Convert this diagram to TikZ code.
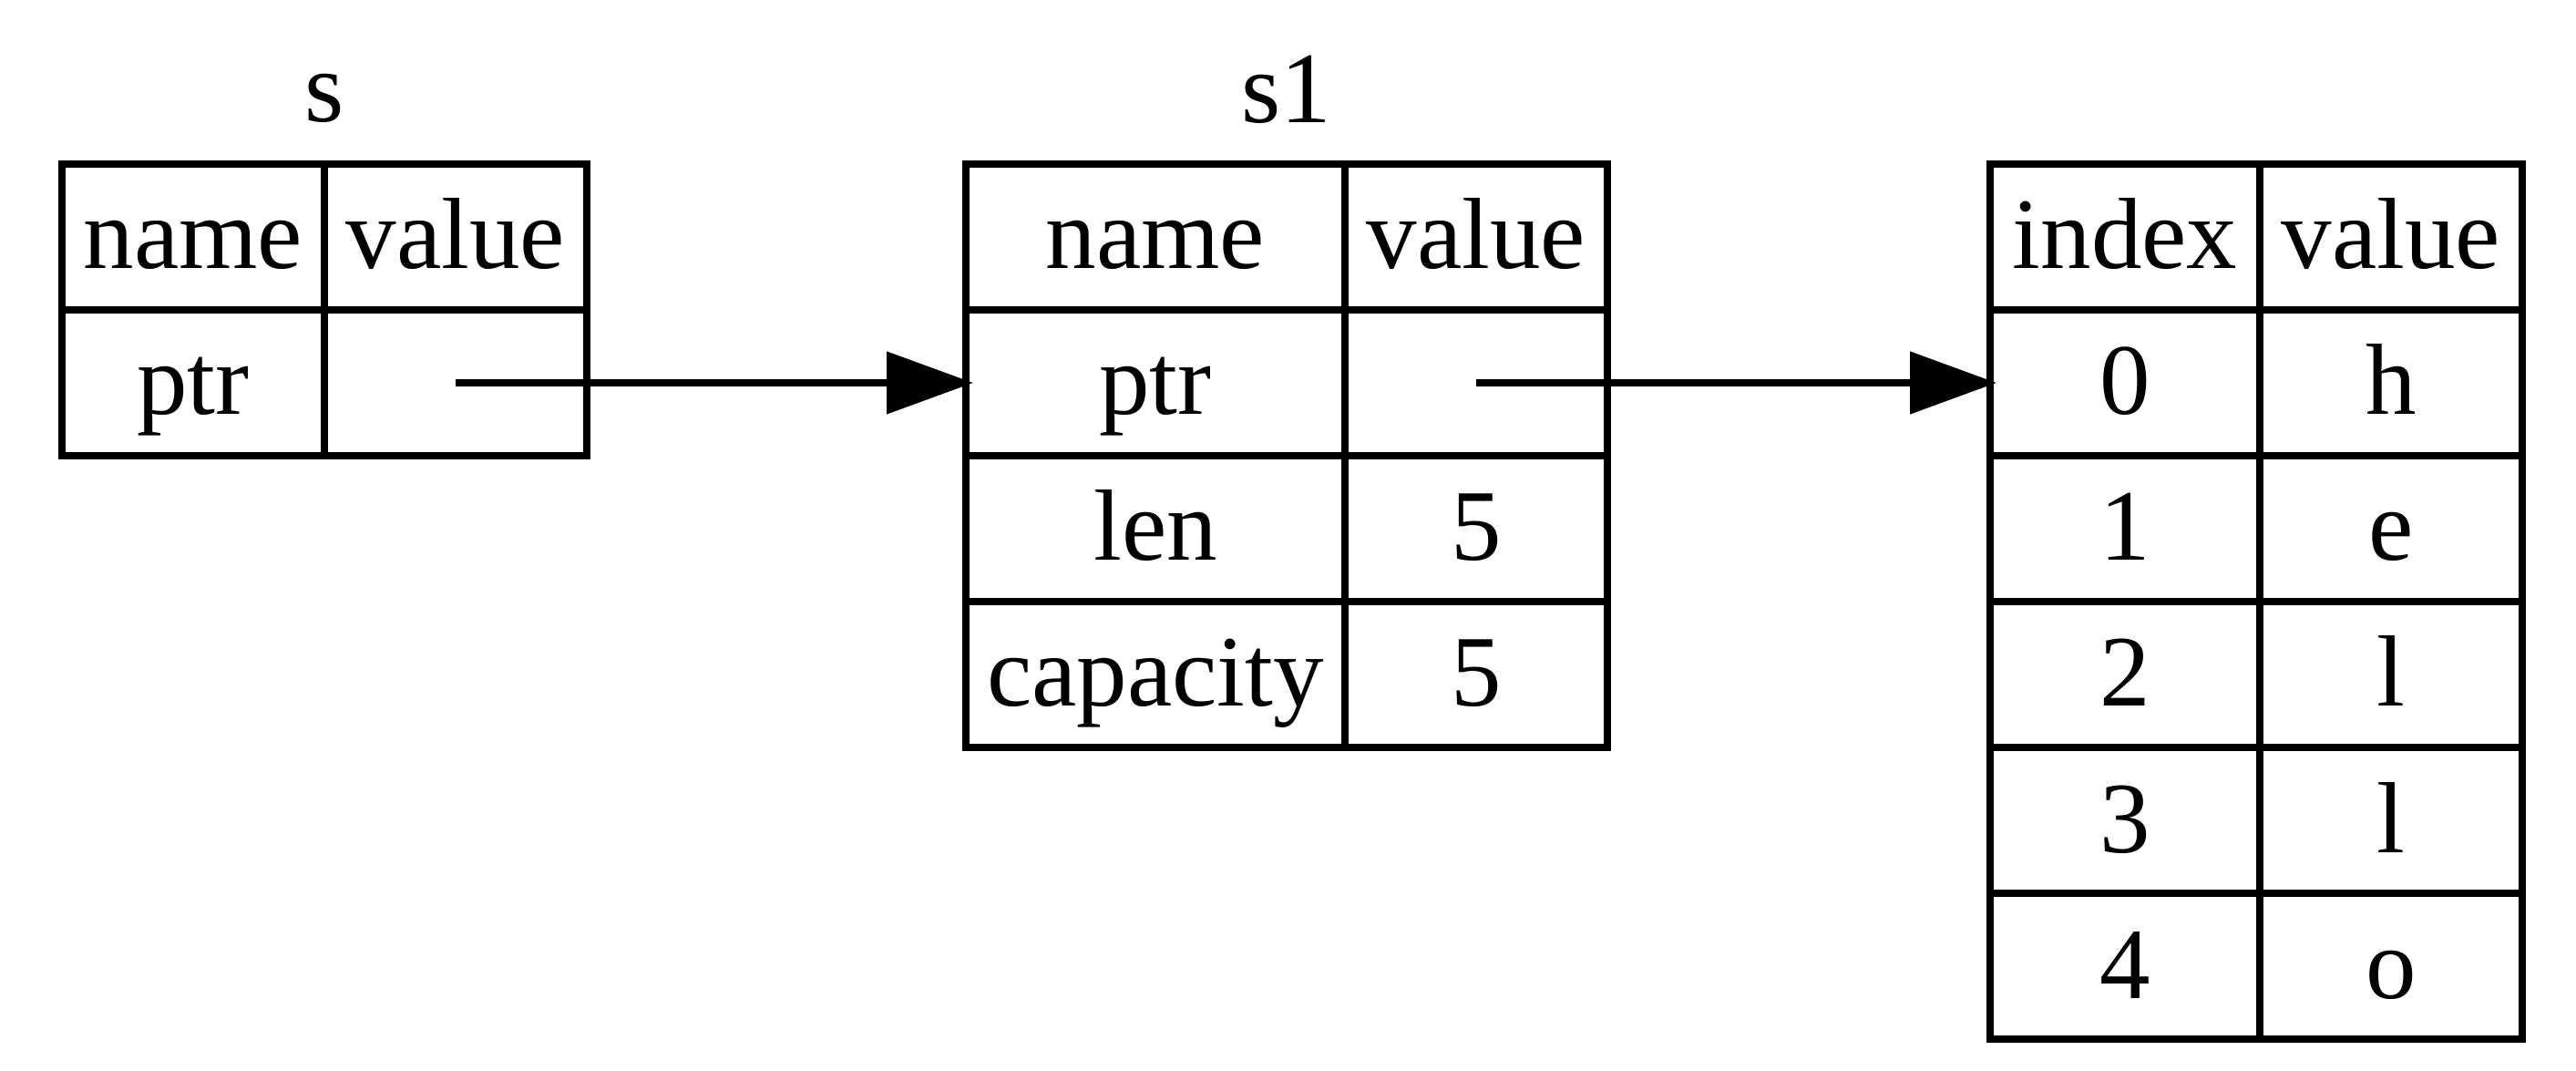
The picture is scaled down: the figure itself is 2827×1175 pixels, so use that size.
\documentclass[tikz,border=0pt]{standalone}
\usepackage{fontspec}
\setmainfont{Liberation Serif}
\usetikzlibrary{arrows.meta}
\tikzset{
  cell/.style={draw, line width=2pt, minimum height=40pt, text height=20pt, text depth=2.5pt, inner sep=0pt, font=\fontsize{27.75pt}{33pt}\selectfont},
  ttl/.style={anchor=base, inner sep=0pt, font=\fontsize{27.75pt}{33pt}\selectfont},
  arr/.style={line width=2pt, -{Triangle[length=23.75pt, width=16.75pt]}}
}
\begin{document}
\begin{tikzpicture}[x=0.25pt, y=-0.25pt]
\useasboundingbox (0,0) rectangle (2827,1175);
% table s
\node[ttl] (s-t) at (356,134) {s};
\node[cell, minimum width=72pt] (s-h1) at (212,260) {name};
\node[cell, minimum width=72pt] (s-h2) at (500,260) {value};
\node[cell, minimum width=72pt] (s-pn) at (212,420) {ptr};
\node[cell, minimum width=72pt] (s-pv) at (500,420) {};
% table s1
\node[ttl] (s1-t) at (1412,135) {s1};
\node[cell, minimum width=104pt] (s1-h1) at (1268,260) {name};
\node[cell, minimum width=72pt] (s1-h2) at (1620,260) {value};
\node[cell, minimum width=104pt] (s1-pn) at (1268,420) {ptr};
\node[cell, minimum width=72pt] (s1-pv) at (1620,420) {};
\node[cell, minimum width=104pt] (s1-ln) at (1268,580) {len};
\node[cell, minimum width=72pt] (s1-lv) at (1620,580) {5};
\node[cell, minimum width=104pt] (s1-cn) at (1268,740) {capacity};
\node[cell, minimum width=72pt] (s1-cv) at (1620,740) {5};
% heap table
\node[cell, minimum width=74pt] (h-h1) at (2332,260) {index};
\node[cell, minimum width=72pt] (h-h2) at (2624,260) {value};
\node[cell, minimum width=74pt] (h-0i) at (2332,420) {0};
\node[cell, minimum width=72pt] (h-0v) at (2624,420) {h};
\node[cell, minimum width=74pt] (h-1i) at (2332,580) {1};
\node[cell, minimum width=72pt] (h-1v) at (2624,580) {e};
\node[cell, minimum width=74pt] (h-2i) at (2332,740) {2};
\node[cell, minimum width=72pt] (h-2v) at (2624,740) {l};
\node[cell, minimum width=74pt] (h-3i) at (2332,900) {3};
\node[cell, minimum width=72pt] (h-3v) at (2624,900) {l};
\node[cell, minimum width=74pt] (h-4i) at (2332,1060) {4};
\node[cell, minimum width=72pt] (h-4v) at (2624,1060) {o};
% pointers
\draw[arr] (s-pv.center) -- ([xshift=3pt]s1-pn.west);
\draw[arr] (s1-pv.center) -- ([xshift=2.75pt]h-0i.west);
\end{tikzpicture}
\end{document}
